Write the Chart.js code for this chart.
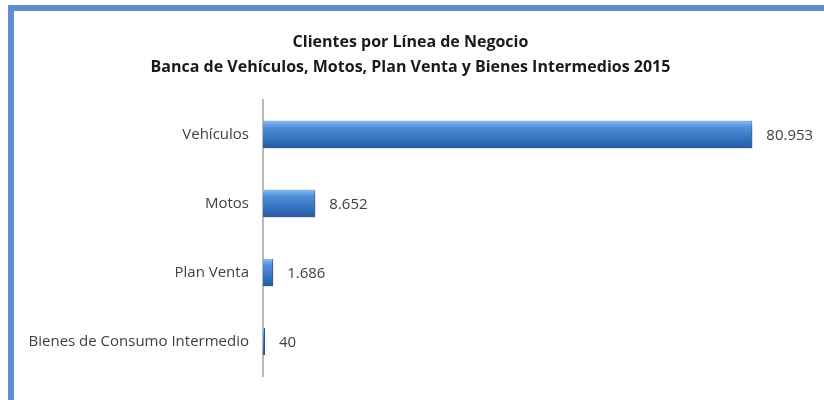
<!DOCTYPE html>
<html>
<head>
<meta charset="utf-8">
<script src="https://cdn.jsdelivr.net/npm/chart.js@4.4.1/dist/chart.umd.min.js"></script>
<style>
  html, body { margin: 0; padding: 0; background: #ffffff; }
  #wrap { position: relative; width: 824px; height: 400px; overflow: hidden; }
  #frame { position: absolute; left: 8px; top: 5px; width: 830px; height: 391px;
           border-left: 6px solid #5f8fd2; border-top: 6px solid #5f8fd2;
           border-bottom: 1px solid #e3e6ec; box-sizing: content-box; }
  #c { position: absolute; left: 0; top: 0; }
</style>
</head>
<body>
<div id="wrap">
  <div id="frame"></div>
  <canvas id="c" width="824" height="400"></canvas>
</div>
<script>
const categories = ["Vehículos", "Motos", "Plan Venta", "Bienes de Consumo Intermedio"];
const clientes = [80953, 8652, 1686, 40];
const titleLines = ["Clientes por Línea de Negocio", "Banca de Vehículos, Motos, Plan Venta y Bienes Intermedios 2015"];

const FONT = "'Open Sans', Lato, sans-serif";

function fmt(v) {
  return String(v).replace(/\B(?=(\d{3})+(?!\d))/g, ".");
}

const shadowPlugin = {
  id: "barShadow",
  beforeDatasetsDraw(chart) {
    const ctx = chart.ctx;
    ctx.save();
    ctx.shadowColor = "rgba(0,0,0,0.35)";
    ctx.shadowBlur = 4;
    ctx.shadowOffsetX = 2;
    ctx.shadowOffsetY = 3;
  },
  afterDatasetsDraw(chart) {
    chart.ctx.restore();
  }
};

const valueLabels = {
  id: "valueLabels",
  afterDraw(chart) {
    const ctx = chart.ctx;
    const meta = chart.getDatasetMeta(0);
    ctx.save();
    ctx.font = "15px " + FONT;
    ctx.fillStyle = "#404040";
    ctx.textAlign = "left";
    ctx.textBaseline = "middle";
    meta.data.forEach((bar, i) => {
      ctx.fillText(fmt(chart.data.datasets[0].data[i]), bar.x + 14, bar.y + 1);
    });
    ctx.restore();
  }
};

function barGradient(context) {
  const chart = context.chart;
  if (!chart.chartArea || context.dataIndex === undefined) return "#3a78c9";
  const y = chart.scales.y.getPixelForValue(context.dataIndex);
  const h = 14;
  const g = chart.ctx.createLinearGradient(0, y - h, 0, y + h);
  g.addColorStop(0, "#8dbdf0");
  g.addColorStop(0.25, "#4f8fdc");
  g.addColorStop(0.7, "#336fbd");
  g.addColorStop(1, "#28599a");
  return g;
}

new Chart(document.getElementById("c"), {
  type: "bar",
  data: {
    labels: categories,
    datasets: [{
      data: clientes,
      backgroundColor: barGradient,
      borderColor: "#2a5894",
      borderWidth: { right: 1, top: 0, bottom: 0, left: 0 },
      borderSkipped: false,
      barPercentage: 0.4,
      categoryPercentage: 1,
      minBarLength: 2
    }]
  },
  options: {
    indexAxis: "y",
    responsive: false,
    animation: false,
    layout: { padding: { left: 14, right: 17, top: 0, bottom: 24 } },
    plugins: {
      legend: { display: false },
      tooltip: { enabled: false },
      title: {
        display: true,
        text: titleLines,
        color: "#1a1a1a",
        font: { family: FONT, size: 16, weight: "bold", lineHeight: 1.62 },
        padding: { top: 29, bottom: 19 }
      }
    },
    scales: {
      x: {
        display: false,
        min: 0,
        max: 90000
      },
      y: {
        grid: { display: false, drawTicks: false },
        border: { display: true, color: "#b8b8b8", width: 2 },
        ticks: { color: "#404040", font: { family: FONT, size: 15 }, padding: 14 },
        afterFit(scale) { scale.width = 263 - 14; }
      }
    }
  },
  plugins: [shadowPlugin, valueLabels]
});
</script>
</body>
</html>
